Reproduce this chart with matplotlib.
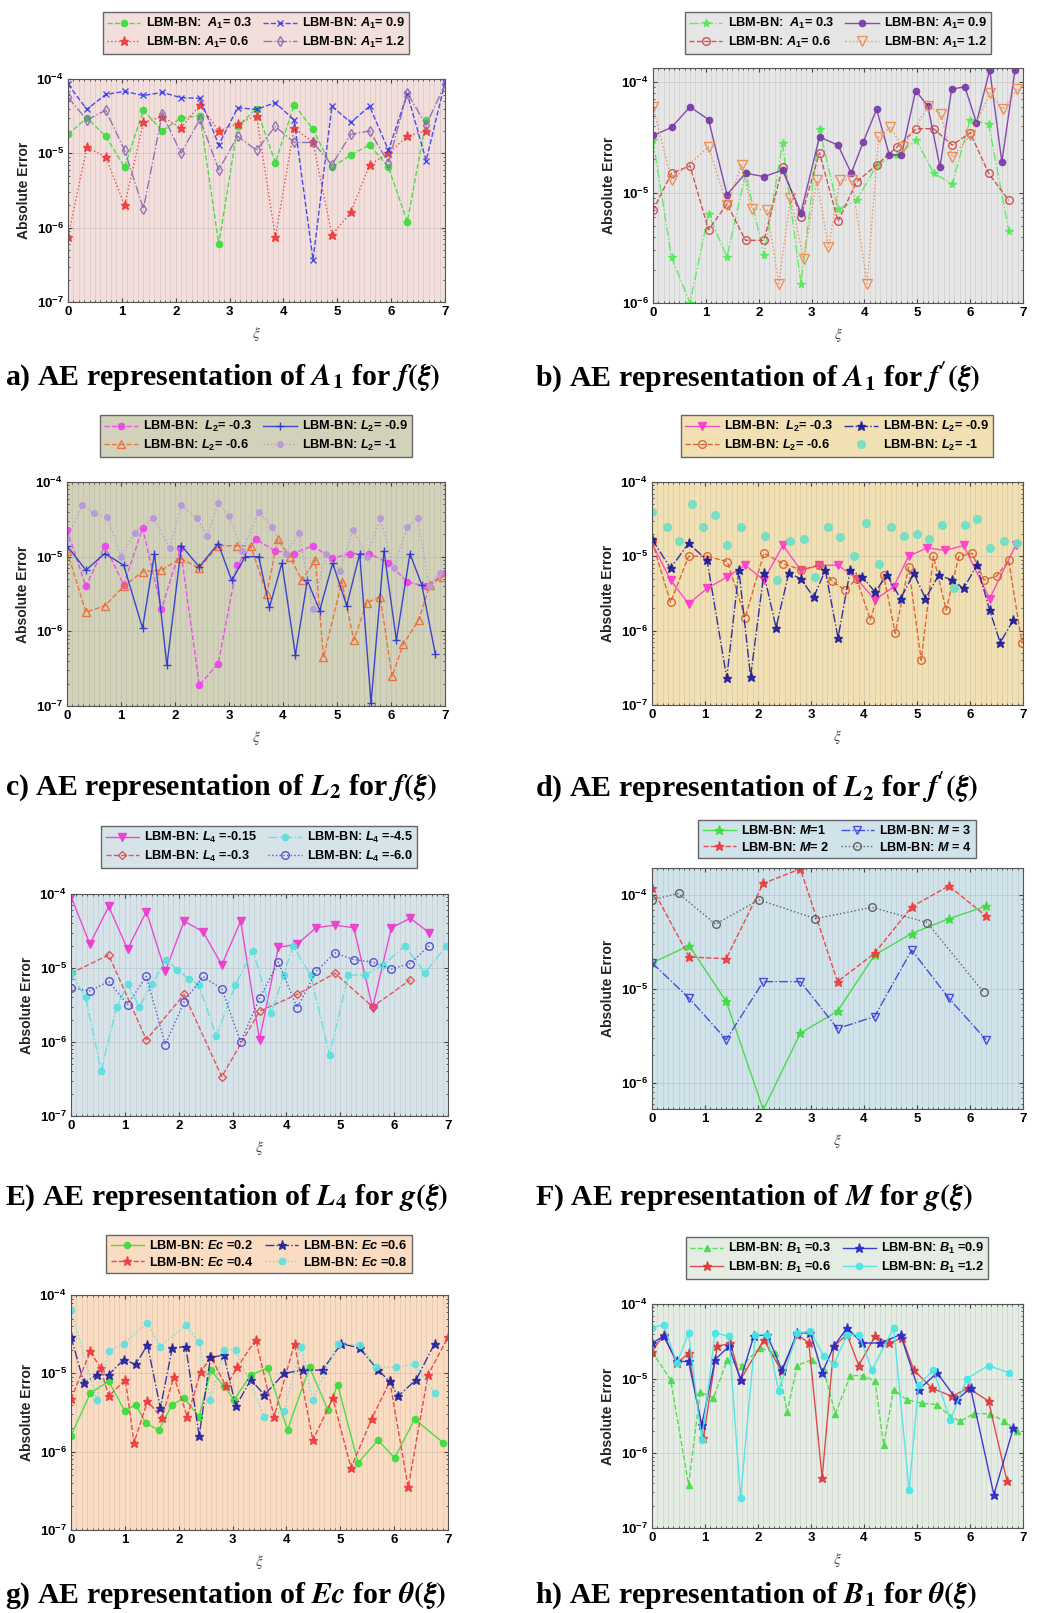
import matplotlib
matplotlib.use('Agg')
import matplotlib.pyplot as plt
from matplotlib.ticker import MultipleLocator, FuncFormatter, LogLocator, NullFormatter
import numpy as np

plt.rcParams['font.family'] = ['Liberation Sans', 'DejaVu Sans']
plt.rcParams['mathtext.fontset'] = 'custom'
plt.rcParams['mathtext.rm'] = 'Liberation Sans:bold'
plt.rcParams['mathtext.it'] = 'Liberation Sans:bold:italic'
plt.rcParams['mathtext.bf'] = 'Liberation Sans:bold'

# ---------------- data ----------------
XI = [0, 0.35, 0.7, 1.05, 1.4, 1.75, 2.1, 2.45, 2.8, 3.15, 3.5, 3.85, 4.2, 4.55, 4.9, 5.25, 5.6, 5.95, 6.3, 6.65, 7.0]

# panel a : A1 for f
a_A1_03 = [1.8e-5, 3.0e-5, 1.7e-5, 6.5e-6, 3.8e-5, 2.0e-5, 3.0e-5, 3.2e-5, 6.0e-7, 2.3e-5, 4.0e-5, 7.5e-6, 4.5e-5, 2.1e-5, 6.5e-6, 9.5e-6, 1.3e-5, 6.5e-6, 1.2e-6, 2.8e-5]
a_A1_06 = [7.5e-7, 1.2e-5, 9.0e-6, 2.0e-6, 2.6e-5, 3.1e-5, 2.2e-5, 4.5e-5, 2.0e-5, 2.5e-5, 3.2e-5, 7.5e-7, 2.2e-5, 1.4e-5, 8.0e-7, 1.6e-6, 7.0e-6, 1.0e-5, 1.7e-5, 2.0e-5]
a_A1_09 = [8.5e-5, 3.9e-5, 6.2e-5, 6.8e-5, 6.0e-5, 6.6e-5, 5.6e-5, 5.5e-5, 1.3e-5, 4.1e-5, 3.9e-5, 4.8e-5, 2.8e-5, 3.7e-7, 4.3e-5, 2.6e-5, 4.3e-5, 1.1e-5, 6.3e-5, 8.0e-6, 9.0e-5]
a_A1_12 = [5.7e-5, 2.8e-5, 3.8e-5, 1.1e-5, 1.8e-6, 3.4e-5, 1.0e-5, 2.9e-5, 6.0e-6, 1.7e-5, 1.1e-5, 2.3e-5, 1.4e-5, 1.4e-5, 7.0e-6, 1.8e-5, 2.0e-5, 7.5e-6, 6.5e-5, 2.4e-5, 8.5e-5]

# panel b : A1 for f'
b_x = [0, 0.35, 0.7, 1.05, 1.4, 1.75, 2.1, 2.45, 2.8, 3.15, 3.5, 3.85, 4.24, 4.62, 4.98, 5.31, 5.66, 6.0, 6.35, 6.73]
b_A1_03 = [3.0e-5, 2.6e-6, 1.0e-6, 6.4e-6, 2.6e-6, 1.5e-5, 2.7e-6, 2.8e-5, 1.5e-6, 3.8e-5, 7.1e-6, 8.5e-6, 1.8e-5, 2.2e-5, 3.0e-5, 1.5e-5, 1.2e-5, 4.6e-5, 4.2e-5, 4.5e-6]
b_A1_06 = [6.9e-6, 1.5e-5, 1.75e-5, 4.6e-6, 7.9e-6, 3.7e-6, 3.7e-6, 1.7e-5, 6.0e-6, 2.3e-5, 5.5e-6, 1.25e-5, 1.8e-5, 2.6e-5, 3.8e-5, 3.8e-5, 2.7e-5, 3.5e-5, 1.5e-5, 8.5e-6]
b_x09 = [0, 0.35, 0.7, 1.05, 1.4, 1.75, 2.1, 2.45, 2.8, 3.15, 3.5, 3.75, 3.98, 4.23, 4.47, 4.7, 4.97, 5.2, 5.43, 5.65, 5.9, 6.12, 6.37, 6.6, 6.85]
b_A1_09 = [3.3e-5, 3.9e-5, 6.0e-5, 4.6e-5, 9.6e-6, 1.5e-5, 1.4e-5, 1.6e-5, 6.6e-6, 3.2e-5, 2.7e-5, 1.5e-5, 2.9e-5, 5.7e-5, 2.2e-5, 2.2e-5, 8.4e-5, 6.1e-5, 1.7e-5, 8.7e-5, 9.1e-5, 4.3e-5, 1.3e-4, 1.9e-5, 1.3e-4]
b_x12 = [0, 0.35, 1.05, 1.4, 1.68, 1.87, 2.16, 2.38, 2.6, 2.85, 3.1, 3.32, 3.54, 3.76, 4.05, 4.27, 4.49, 4.73, 5.21, 5.44, 5.66, 6.0, 6.38, 6.62, 6.89]
b_A1_12 = [6.0e-5, 1.3e-5, 2.6e-5, 7.7e-6, 1.8e-5, 7.1e-6, 7.0e-6, 1.5e-6, 9.0e-6, 2.5e-6, 1.3e-5, 3.2e-6, 1.3e-5, 1.3e-5, 1.5e-6, 3.2e-5, 3.9e-5, 2.6e-5, 6.1e-5, 5.2e-5, 2.1e-5, 3.3e-5, 8.0e-5, 5.7e-5, 8.7e-5]

# panel c : L2 for f
c_L2_03 = [2.3e-5, 4.0e-6, 1.4e-5, 4.2e-6, 2.4e-5, 2.0e-6, 1.3e-5, 1.9e-7, 3.7e-7, 7.7e-6, 1.7e-5, 1.2e-5, 1.1e-5, 1.4e-5, 9.5e-6, 1.1e-5, 1.1e-5, 8.2e-6, 4.6e-6, 4.0e-6, 6.0e-6]
c_x06 = [0, 0.35, 0.7, 1.05, 1.4, 1.75, 2.1, 2.45, 2.8, 3.15, 3.4, 3.7, 3.9, 4.13, 4.35, 4.6, 4.75, 5.09, 5.31, 5.55, 5.8, 6.02, 6.23, 6.51, 6.72, 6.97]
c_L2_06 = [1.2e-5, 1.8e-6, 2.2e-6, 4.0e-6, 6.3e-6, 6.6e-6, 9.5e-6, 7.0e-6, 1.4e-5, 1.4e-5, 1.4e-5, 3.2e-6, 1.7e-5, 1.0e-5, 4.8e-6, 9.0e-6, 4.5e-7, 4.6e-6, 7.6e-7, 2.4e-6, 2.9e-6, 2.5e-7, 6.8e-7, 1.4e-6, 4.2e-6, 5.4e-6]
c_x09 = [0, 0.35, 0.7, 1.05, 1.4, 1.62, 1.85, 2.12, 2.45, 2.8, 3.05, 3.3, 3.55, 3.75, 3.98, 4.23, 4.45, 4.68, 4.92, 5.18, 5.42, 5.63, 5.87, 6.1, 6.35, 6.57, 6.82]
c_L2_09 = [1.4e-5, 6.6e-6, 1.1e-5, 7.7e-6, 1.1e-6, 1.1e-5, 3.5e-7, 1.4e-5, 7.3e-6, 1.5e-5, 4.8e-6, 1.0e-5, 1.0e-5, 2.1e-6, 8.2e-6, 4.8e-7, 4.8e-6, 1.9e-6, 8.2e-6, 2.2e-6, 1.1e-5, 1.1e-7, 1.2e-5, 7.6e-7, 1.1e-5, 4.2e-6, 5.0e-7]
c_x1 = [0, 0.28, 0.5, 0.75, 1.0, 1.25, 1.6, 1.9, 2.12, 2.4, 2.6, 2.8, 3.0, 3.25, 3.55, 3.8, 4.05, 4.3, 4.55, 4.8, 5.05, 5.3, 5.55, 5.8, 6.05, 6.3, 6.5, 6.7, 6.9]
c_L2_1 = [1.7e-5, 4.9e-5, 3.8e-5, 3.4e-5, 1.0e-5, 2.1e-5, 3.3e-5, 1.3e-5, 4.9e-5, 3.3e-5, 1.9e-5, 5.2e-5, 3.5e-5, 1.2e-5, 4.0e-5, 2.5e-5, 1.1e-5, 2.1e-5, 2.0e-6, 1.1e-5, 6.5e-6, 2.3e-5, 1.0e-5, 3.3e-5, 7.0e-6, 2.5e-5, 3.3e-5, 4.0e-6, 6.0e-6]

# panel d : L2 for f'
d_x03 = [0, 0.35, 0.69, 1.04, 1.42, 1.76, 2.11, 2.47, 2.81, 3.16, 3.51, 3.86, 4.21, 4.56, 4.84, 5.19, 5.53, 5.88, 6.37, 6.86]
d_L2_03 = [1.5e-5, 4.8e-6, 2.3e-6, 3.7e-6, 5.3e-6, 7.6e-6, 4.8e-6, 1.4e-5, 6.5e-6, 7.6e-6, 7.6e-6, 5.0e-6, 2.6e-6, 3.9e-6, 1.0e-5, 1.3e-5, 1.2e-5, 1.4e-5, 2.7e-6, 1.4e-5]
d_x06 = [0, 0.35, 0.69, 1.04, 1.42, 1.76, 2.11, 2.47, 2.81, 3.16, 3.4, 3.65, 3.86, 4.12, 4.37, 4.59, 4.84, 5.08, 5.31, 5.55, 5.79, 6.04, 6.26, 6.5, 6.73, 6.98]
d_L2_06 = [1.6e-5, 2.4e-6, 1.0e-5, 1.0e-5, 8.5e-6, 1.5e-6, 1.1e-5, 8.0e-6, 6.6e-6, 7.6e-6, 4.6e-6, 3.5e-6, 5.0e-6, 1.4e-6, 5.6e-6, 9.2e-7, 7.2e-6, 4.0e-7, 1.0e-5, 1.9e-6, 1.0e-5, 1.1e-5, 4.8e-6, 5.4e-6, 8.8e-6, 6.8e-7]
d_x09 = [0, 0.35, 0.69, 1.04, 1.41, 1.64, 1.86, 2.11, 2.34, 2.58, 2.81, 3.05, 3.27, 3.51, 3.74, 3.97, 4.21, 4.43, 4.69, 4.94, 5.16, 5.41, 5.66, 5.88, 6.13, 6.37, 6.57, 6.82]
d_L2_09 = [1.7e-5, 6.9e-6, 1.5e-5, 8.8e-6, 2.3e-7, 6.5e-6, 2.4e-7, 5.9e-6, 1.1e-6, 5.9e-6, 5.0e-6, 2.8e-6, 6.5e-6, 8.0e-7, 6.5e-6, 5.3e-6, 3.3e-6, 5.6e-6, 2.7e-6, 5.9e-6, 2.7e-6, 5.6e-6, 4.8e-6, 3.7e-6, 7.6e-6, 1.9e-6, 6.9e-7, 1.4e-6]
d_x1 = [0, 0.28, 0.5, 0.75, 0.97, 1.19, 1.42, 1.67, 2.14, 2.36, 2.61, 2.86, 3.08, 3.33, 3.55, 3.81, 4.03, 4.28, 4.5, 4.75, 5.0, 5.22, 5.47, 5.69, 5.91, 6.13, 6.38, 6.64, 6.89]
d_L2_1 = [4.0e-5, 2.5e-5, 1.6e-5, 5.1e-5, 2.5e-5, 3.6e-5, 1.4e-5, 2.5e-5, 1.9e-5, 4.8e-6, 1.6e-5, 1.7e-5, 5.3e-6, 2.5e-5, 1.8e-5, 1.0e-5, 2.8e-5, 8.0e-6, 2.5e-5, 1.9e-5, 2.0e-5, 1.7e-5, 2.6e-5, 3.7e-6, 2.6e-5, 3.2e-5, 1.3e-5, 1.6e-5, 1.5e-5]

# panel E : L4 for g
e_L4_015 = [9.3e-5, 2.1e-5, 6.8e-5, 1.8e-5, 5.8e-5, 9.0e-6, 4.3e-5, 3.1e-5, 1.1e-5, 4.3e-5, 1.07e-6, 1.9e-5, 2.1e-5, 3.5e-5, 3.8e-5, 3.5e-5, 2.9e-6, 3.5e-5, 4.7e-5, 3.0e-5]
e_x03 = [0, 0.7, 1.4, 2.1, 2.8, 3.5, 4.2, 4.9, 5.6, 6.3]
e_L4_03 = [8.5e-6, 1.5e-5, 1.07e-6, 4.4e-6, 3.4e-7, 2.6e-6, 4.4e-6, 8.5e-6, 3.0e-6, 6.9e-6]
e_x45 = [0, 0.27, 0.56, 0.85, 1.05, 1.27, 1.5, 1.76, 1.97, 2.2, 2.37, 2.7, 3.05, 3.38, 3.72, 3.95, 4.12, 4.45, 4.8, 5.15, 5.45, 5.8, 6.2, 6.57, 6.97]
e_L4_45 = [8.5e-6, 4.0e-6, 4.1e-7, 3.0e-6, 6.0e-6, 3.0e-6, 6.0e-6, 1.3e-5, 9.5e-6, 7.0e-6, 5.9e-6, 1.2e-6, 5.9e-6, 1.7e-5, 2.5e-6, 8.0e-6, 2.0e-5, 8.0e-6, 6.7e-7, 8.0e-6, 8.0e-6, 1.1e-5, 2.0e-5, 8.5e-6, 2.0e-5]
e_L4_60 = [5.4e-6, 4.9e-6, 6.6e-6, 3.2e-6, 7.7e-6, 9.2e-7, 3.5e-6, 7.7e-6, 5.2e-6, 1.0e-6, 3.9e-6, 1.2e-5, 2.9e-6, 9.0e-6, 1.6e-5, 1.3e-5, 1.2e-5, 9.7e-6, 1.15e-5, 2.0e-5]

# panel F : M for g
f_x = [0, 0.7, 1.4, 2.1, 2.8, 3.5, 4.2, 4.9, 5.6, 6.3]
f_M1 = [1.9e-5, 2.9e-5, 7.4e-6, 5.2e-7, 3.4e-6, 5.8e-6, 2.3e-5, 3.9e-5, 5.6e-5, 7.6e-5]
f_M2 = [1.2e-4, 2.2e-5, 2.1e-5, 1.33e-4, 1.9e-4, 1.2e-5, 2.4e-5, 7.5e-5, 1.25e-4, 6.0e-5]
f_M3 = [1.9e-5, 8.0e-6, 2.9e-6, 1.2e-5, 1.2e-5, 3.8e-6, 5.1e-6, 2.6e-5, 8.0e-6, 2.9e-6]
f_x4 = [0, 0.5, 1.2, 2.02, 3.08, 4.15, 5.19, 6.26]
f_M4 = [8.9e-5, 1.04e-4, 4.9e-5, 8.9e-5, 5.6e-5, 7.4e-5, 5.1e-5, 9.2e-6]

# panel g : Ec for theta
g_x02 = [0, 0.36, 0.7, 1.0, 1.2, 1.39, 1.63, 1.88, 2.1, 2.38, 2.6, 2.84, 3.03, 3.34, 3.65, 4.02, 4.43, 4.77, 4.95, 5.33, 5.7, 6.01, 6.38, 6.91]
g_Ec02 = [1.6e-6, 5.6e-6, 7.9e-6, 3.3e-6, 4.0e-6, 2.3e-6, 1.9e-6, 4.0e-6, 4.8e-6, 2.8e-6, 1.1e-5, 6.8e-6, 4.6e-6, 9.6e-6, 1.17e-5, 1.9e-6, 1.2e-5, 3.4e-6, 7.2e-6, 7.2e-7, 1.4e-6, 8.3e-7, 2.6e-6, 1.3e-6]
g_x04 = [0, 0.36, 0.55, 0.7, 1.01, 1.17, 1.42, 1.69, 1.91, 2.16, 2.41, 2.6, 2.88, 3.09, 3.43, 3.77, 4.15, 4.49, 4.86, 5.2, 5.58, 5.92, 6.26, 6.63, 7.0]
g_Ec04 = [4.7e-6, 1.9e-5, 1.16e-5, 5.1e-6, 8.3e-6, 1.3e-6, 4.4e-6, 2.7e-6, 9.1e-6, 2.8e-6, 1.05e-5, 1.6e-5, 6.8e-6, 1.2e-5, 2.7e-5, 2.8e-6, 2.4e-5, 1.4e-6, 4.8e-6, 6.2e-7, 2.6e-6, 7.9e-6, 3.5e-7, 9.6e-6, 2.9e-5]
g_x06 = [0, 0.24, 0.48, 0.7, 0.98, 1.2, 1.42, 1.66, 1.88, 2.13, 2.38, 2.59, 2.84, 3.06, 3.34, 3.59, 3.96, 4.3, 4.67, 5.02, 5.36, 5.7, 5.92, 6.07, 6.41, 6.75]
g_Ec06 = [2.95e-5, 7.5e-6, 9.6e-6, 9.6e-6, 1.5e-5, 1.3e-5, 2.3e-5, 3.6e-6, 2.1e-5, 2.2e-5, 1.6e-6, 1.6e-5, 1.7e-5, 3.8e-6, 8.3e-6, 5.3e-6, 1.0e-5, 1.1e-5, 1.1e-5, 2.4e-5, 2.1e-5, 1.1e-5, 7.9e-6, 5.1e-6, 8.3e-6, 2.4e-5]
g_x08 = [0, 0.48, 0.7, 0.98, 1.42, 1.66, 2.13, 2.38, 2.59, 2.84, 3.06, 3.59, 3.96, 4.27, 4.49, 4.95, 5.36, 5.67, 6.04, 6.38, 6.75]
g_Ec08 = [6.4e-5, 4.6e-6, 1.9e-5, 2.4e-5, 4.4e-5, 2.2e-5, 4.1e-5, 2.5e-5, 4.6e-6, 2.0e-5, 2.0e-5, 2.8e-6, 3.3e-6, 2.2e-5, 4.6e-6, 2.4e-5, 2.3e-5, 1.2e-5, 1.2e-5, 1.3e-5, 5.6e-6]

# panel h : B1 for theta
h_x03 = [0, 0.35, 0.69, 0.91, 1.16, 1.42, 1.7, 2.04, 2.33, 2.55, 2.74, 3.02, 3.24, 3.46, 3.74, 3.99, 4.21, 4.37, 4.56, 4.81, 5.09, 5.38, 5.63, 5.82, 6.07, 6.38, 6.64, 6.89]
h_B03 = [2.3e-5, 9.7e-6, 3.8e-7, 6.6e-6, 5.5e-6, 1.8e-5, 1.5e-5, 2.6e-5, 2.2e-5, 3.6e-6, 1.5e-5, 1.8e-5, 1.3e-5, 3.4e-6, 1.1e-5, 1.1e-5, 9.2e-6, 1.3e-6, 7.1e-6, 5.2e-6, 4.7e-6, 4.5e-6, 3.1e-6, 2.7e-6, 3.4e-6, 3.4e-6, 2.7e-6, 2.0e-6]
h_x06 = [0, 0.22, 0.47, 0.69, 0.97, 1.23, 1.48, 1.67, 2.11, 2.45, 2.74, 2.96, 3.21, 3.43, 3.68, 3.9, 4.21, 4.47, 4.72, 4.94, 5.28, 5.66, 5.97, 6.35, 6.7]
h_B06 = [2.3e-5, 3.9e-5, 1.6e-5, 2.2e-5, 1.6e-6, 2.7e-5, 3.0e-5, 9.7e-6, 3.3e-5, 1.25e-5, 3.9e-5, 3.0e-5, 4.7e-7, 2.7e-5, 3.9e-5, 1.5e-5, 3.7e-5, 3.0e-5, 3.5e-5, 1.3e-5, 7.5e-6, 5.8e-6, 7.5e-6, 5.0e-6, 4.2e-7]
h_x09 = [0, 0.22, 0.47, 0.69, 0.94, 1.19, 1.45, 1.67, 1.92, 2.17, 2.45, 2.74, 2.99, 3.21, 3.43, 3.68, 3.96, 4.31, 4.69, 5.03, 5.38, 5.75, 6.01, 6.45, 6.82]
h_B09 = [3.0e-5, 3.7e-5, 1.7e-5, 1.7e-5, 2.4e-6, 1.8e-5, 2.7e-5, 9.7e-6, 3.7e-5, 3.9e-5, 1.3e-5, 4.1e-5, 4.1e-5, 1.2e-5, 2.7e-5, 4.8e-5, 3.0e-5, 3.0e-5, 3.9e-5, 7.1e-6, 1.2e-5, 5.2e-6, 7.5e-6, 2.8e-7, 2.2e-6]
h_x12 = [0, 0.22, 0.47, 0.69, 0.94, 1.19, 1.45, 1.67, 1.95, 2.17, 2.39, 2.74, 2.99, 3.24, 3.43, 3.68, 3.9, 4.15, 4.56, 4.85, 5.03, 5.31, 5.63, 5.94, 6.35, 6.73]
h_B12 = [4.8e-5, 5.3e-5, 1.6e-5, 4.1e-5, 1.5e-6, 4.1e-5, 3.7e-5, 2.5e-7, 3.9e-5, 3.9e-5, 6.8e-6, 4.1e-5, 4.3e-5, 2.0e-5, 1.55e-5, 3.9e-5, 3.9e-5, 1.3e-5, 4.8e-5, 3.2e-7, 8.3e-6, 1.3e-5, 2.8e-6, 1.0e-5, 1.5e-5, 1.2e-5]

# ---------------- drawing ----------------
W, H = 1060, 1613
fig = plt.figure(figsize=(10.6, 16.13), dpi=100)
fig.patch.set_facecolor('white')


def rect(x0, y0, x1, y1):
    return [x0 / W, 1 - y1 / H, (x1 - x0) / W, (y1 - y0) / H]


def panel(box, face, ylim, series, leg_c, ylabel_pad=4):
    ax = fig.add_axes(rect(*box))
    ax.set_facecolor(face)
    for xs, ys, lab, col, ls, mk, filled, ms in series:
        ax.plot(xs, ys, linestyle=ls, color=col, marker=mk, markersize=ms,
                markerfacecolor=(col if filled else 'none'), markeredgecolor=col,
                markeredgewidth=1.0, linewidth=1.0, label=lab, alpha=0.9)
    ax.set_yscale('log')
    ax.set_xlim(0, 7)
    ax.set_ylim(*ylim)
    ax.xaxis.set_major_locator(MultipleLocator(1))
    ax.xaxis.set_minor_locator(MultipleLocator(0.1))
    ax.yaxis.set_major_locator(LogLocator(base=10))
    ax.yaxis.set_minor_locator(LogLocator(base=10, subs=np.arange(2, 10)))
    ax.yaxis.set_minor_formatter(NullFormatter())
    ax.yaxis.set_major_formatter(FuncFormatter(lambda v, p: r'$\mathrm{10^{%d}}$' % int(round(np.log10(v)))))
    ax.grid(True, which='minor', axis='x', color='#8c8c8c', alpha=0.25, linewidth=0.5)
    ax.grid(True, which='major', axis='both', color='#8c8c8c', alpha=0.3, linewidth=0.5)
    ax.tick_params(which='both', direction='in', top=True, right=True, color='#444444')
    ax.tick_params(which='major', length=3, labelsize=9.5, pad=3)
    ax.tick_params(which='minor', length=1.5)
    for lab in ax.get_xticklabels():
        lab.set_fontweight('bold')
    for s in ax.spines.values():
        s.set_color('#555555')
        s.set_linewidth(0.8)
    ax.set_ylabel('Absolute Error', fontsize=10, fontweight='bold', labelpad=ylabel_pad, color='#222222')
    ax.set_xlabel(r'$\xi$', fontsize=11, math_fontfamily='stix', color='#444444', labelpad=5)
    leg = ax.legend(loc='center', bbox_to_anchor=(leg_c[0] / W, 1 - leg_c[1] / H),
                    bbox_transform=fig.transFigure, ncol=2,
                    prop={'weight': 'bold', 'size': 9.2}, facecolor=face, edgecolor='#666666',
                    framealpha=1, fancybox=False, handlelength=2.6, columnspacing=0.9,
                    labelspacing=0.3, borderpad=0.35, handletextpad=0.4)
    leg.get_frame().set_linewidth(1.0)
    return ax


def caption(x, y, s):
    fig.text(x / W, 1 - y / H, s, fontfamily='Liberation Serif', fontweight='bold',
             fontsize=21.5, ha='left', va='center', math_fontfamily='stix')


# a
panel((68, 79, 445, 302), '#f2dfdc', (1e-7, 1e-4), [
    (XI[:20], a_A1_03, 'LBM-BN:  $A_1$= 0.3', '#3cdc3c', '--', 'o', True, 4.5),
    (XI[:20], a_A1_06, 'LBM-BN: $A_1$= 0.6', '#ee3a3a', ':', '*', True, 6.5),
    (XI, a_A1_09, 'LBM-BN: $A_1$= 0.9', '#3a3aee', '--', 'x', False, 5),
    (XI, a_A1_12, 'LBM-BN: $A_1$= 1.2', '#8a68b0', '-.', 'd', False, 5.5),
], (256, 33))
caption(5, 377, r'a) AE representation of $\mathbfit{A}_\mathbf{1}$ for $\mathbfit{f}\mathbf{(}\mathbfit{\xi}\mathbf{)}$')

# b
panel((653, 68, 1023, 303), '#e6e6e6', (1e-6, 1.35e-4), [
    (b_x, b_A1_03, 'LBM-BN:  $A_1$= 0.3', '#55ea55', '-.', '*', True, 5.5),
    (b_x, b_A1_06, 'LBM-BN: $A_1$= 0.6', '#c84848', '--', 'o', False, 5.5),
    (b_x09, b_A1_09, 'LBM-BN: $A_1$= 0.9', '#7a3aa8', '-', 'o', True, 4.5),
    (b_x12, b_A1_12, 'LBM-BN: $A_1$= 1.2', '#f0884a', ':', 'v', False, 6.5),
], (838, 33))
caption(535, 377, r"b) AE representation of $\mathbfit{A}_\mathbf{1}$ for $\mathbfit{f}\mathbf{'(}\mathbfit{\xi}\mathbf{)}$")

# c
panel((67, 482, 445, 706), '#d2d2ba', (1e-7, 1e-4), [
    (XI, c_L2_03, 'LBM-BN:  $L_2$= -0.3', '#ee44ee', '--', 'o', True, 4.5),
    (c_x06, c_L2_06, 'LBM-BN: $L_2$= -0.6', '#ee6a33', '--', '^', False, 5.5),
    (c_x09, c_L2_09, 'LBM-BN: $L_2$= -0.9', '#2a35cc', '-', '+', False, 5.5),
    (c_x1, c_L2_1, 'LBM-BN: $L_2$= -1', '#b898d8', ':', 'o', True, 4),
], (256, 436))
caption(5, 787, r'c) AE representation of $\mathbfit{L}_\mathbf{2}$ for $\mathbfit{f}\mathbf{(}\mathbfit{\xi}\mathbf{)}$')

# d
panel((652, 482, 1023, 705), '#f1e0b3', (1e-7, 1e-4), [
    (d_x03, d_L2_03, 'LBM-BN:  $L_2$= -0.3', '#ff3ccc', '-', 'v', True, 5.5),
    (d_x06, d_L2_06, 'LBM-BN: $L_2$= -0.6', '#dd5a28', '--', 'o', False, 5.5),
    (d_x09, d_L2_09, 'LBM-BN: $L_2$= -0.9', '#1e1e9a', '-.', '*', True, 6.5),
    (d_x1, d_L2_1, 'LBM-BN: $L_2$= -1', '#6ce0c4', 'none', 'o', True, 5.5),
], (837, 436))
caption(535, 787, r"d) AE representation of $\mathbfit{L}_\mathbf{2}$ for $\mathbfit{f}\mathbf{'(}\mathbfit{\xi}\mathbf{)}$")

# E
panel((71, 894, 448, 1116), '#d6e4ea', (1e-7, 1e-4), [
    (XI[:20], e_L4_015, 'LBM-BN: $L_4$ =-0.15', '#ee3acc', '-', 'v', True, 5.5),
    (e_x03, e_L4_03, 'LBM-BN: $L_4$ =-0.3', '#dd4a4a', '--', 'D', False, 4.5),
    (e_x45, e_L4_45, 'LBM-BN: $L_4$ =-4.5', '#5cdede', '-.', 'o', True, 4.5),
    (XI[:20], e_L4_60, 'LBM-BN: $L_4$ =-6.0', '#4848cc', ':', 'o', False, 5.5),
], (259, 847))
caption(5, 1197, r'E) AE representation of $\mathbfit{L}_\mathbf{4}$ for $\mathbfit{g}\mathbf{(}\mathbfit{\xi}\mathbf{)}$')

# F
panel((652, 868, 1023, 1109), '#d0e2ea', (5.3e-7, 1.94e-4), [
    (f_x, f_M1, 'LBM-BN: $M$=1', '#3cdc3c', '-', '*', True, 6.5),
    (f_x, f_M2, 'LBM-BN: $M$= 2', '#ee3a3a', '--', '*', True, 6.5),
    (f_x, f_M3, 'LBM-BN: $M$ = 3', '#3a3add', '-.', 'v', False, 5.5),
    (f_x4, f_M4, 'LBM-BN: $M$ = 4', '#555555', ':', 'o', False, 5.5),
], (837, 839))
caption(535, 1197, r'F) AE representation of $\mathbfit{M}$ for $\mathbfit{g}\mathbf{(}\mathbfit{\xi}\mathbf{)}$')

# g
panel((71, 1295, 448, 1530), '#f9dcc1', (1e-7, 1e-4), [
    (g_x02, g_Ec02, 'LBM-BN: $Ec$ =0.2', '#3cdc3c', '-', 'o', True, 4.5),
    (g_x04, g_Ec04, 'LBM-BN: $Ec$ =0.4', '#ee3a3a', '--', '*', True, 6.5),
    (g_x06, g_Ec06, 'LBM-BN: $Ec$ =0.6', '#24249c', '-.', '*', True, 6.5),
    (g_x08, g_Ec08, 'LBM-BN: $Ec$ =0.8', '#5ce2e2', ':', 'o', True, 4.5),
], (259, 1254))
caption(5, 1595, r'g) AE representation of $\mathbfit{Ec}$ for $\mathbfit{\theta}\mathbf{(}\mathbfit{\xi}\mathbf{)}$')

# h
panel((652, 1304, 1023, 1528), '#e4ece4', (1e-7, 1e-4), [
    (h_x03, h_B03, 'LBM-BN: $B_1$ =0.3', '#48dc48', '--', '^', True, 4.5),
    (h_x06, h_B06, 'LBM-BN: $B_1$ =0.6', '#dd3a3a', '-', '*', True, 6.5),
    (h_x09, h_B09, 'LBM-BN: $B_1$ =0.9', '#2a2acc', '-', '*', True, 6.5),
    (h_x12, h_B12, 'LBM-BN: $B_1$ =1.2', '#48e6e6', '-', 'o', True, 4.5),
], (837, 1258))
caption(535, 1595, r'h) AE representation of $\mathbfit{B}_\mathbf{1}$ for $\mathbfit{\theta}\mathbf{(}\mathbfit{\xi}\mathbf{)}$')

fig.savefig('out.png', dpi=100, facecolor='white')
